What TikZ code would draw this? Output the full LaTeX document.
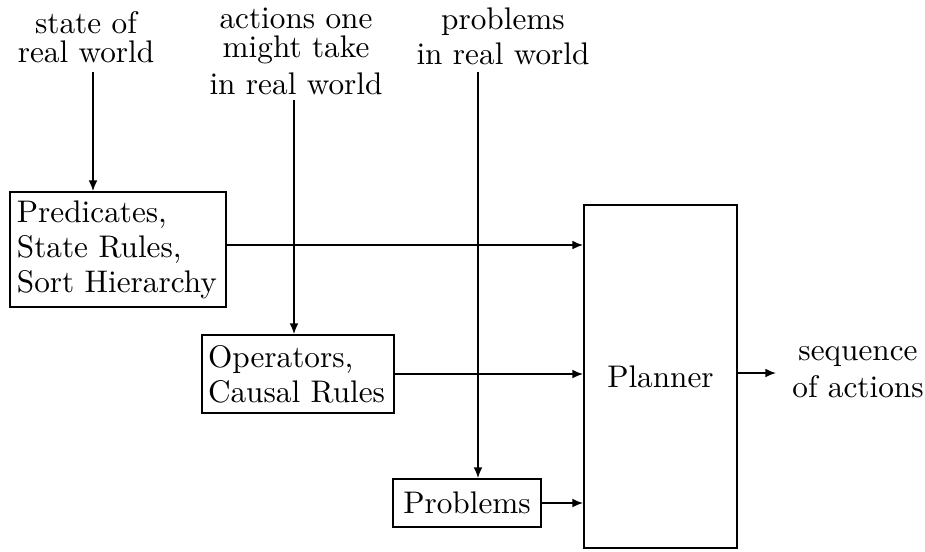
\documentclass[tikz,border=0pt]{standalone}
\usetikzlibrary{arrows.meta}
\begin{document}
\begin{tikzpicture}[x=0.32pt,y=-0.32pt,
  box/.style={draw,line width=0.6pt,inner sep=0pt,font=\fontsize{10}{11.2}\selectfont},
  lbl/.style={align=center,inner sep=0pt,font=\fontsize{10}{12}\selectfont},
  arr/.style={line width=0.5pt,-{Latex[length=3.4pt,width=2.8pt]}}]
\useasboundingbox (0,0) rectangle (925,551);
% top labels
\node[lbl] (l1) at (86,37) {state of\\[-2.7pt]real world};
\node[lbl] (l2) at (296,51) {actions one\\[-2.7pt]might take\\[-0.2pt]in real world};
\node[lbl] (l3) at (503,36) {problems\\[-0.8pt]in real world};
% boxes
\node[box,minimum width=69.12pt,minimum height=36.8pt,text width=64.7pt,align=left] (b1) at (118,249.5) {Predicates,\\State Rules,\\Sort Hierarchy};
\node[box,minimum width=61.44pt,minimum height=24.96pt,text width=57.6pt,align=left] (b2) at (298,374) {Operators,\\Causal Rules};
\node[box,minimum width=47.36pt,minimum height=15.36pt] (b3) at (467,503) {Problems};
\node[box,minimum width=48.96pt,minimum height=109.76pt] (pl) at (660.5,376.5) {Planner};
\node[lbl] (out) at (858,372) {sequence\\of actions};
% connector helper points
\coordinate (s1) at (93,72);
\coordinate (s2) at (294,100);
\coordinate (s3) at (478,72);
\coordinate (h1) at (0,245);
\coordinate (o1) at (776,373);
% connectors
\draw[arr] (s1) -- (s1 |- b1.north);
\draw[arr] (s2) -- (s2 |- b2.north);
\draw[arr] (s3) -- (s3 |- b3.north);
\draw[arr] (b1.east |- h1) -- (pl.west |- h1);
\draw[arr] (b2.east) -- (pl.west |- b2.east);
\draw[arr] (b3.east) -- (pl.west |- b3.east);
\draw[arr] (pl.east |- o1) -- (o1);
\end{tikzpicture}
\end{document}
